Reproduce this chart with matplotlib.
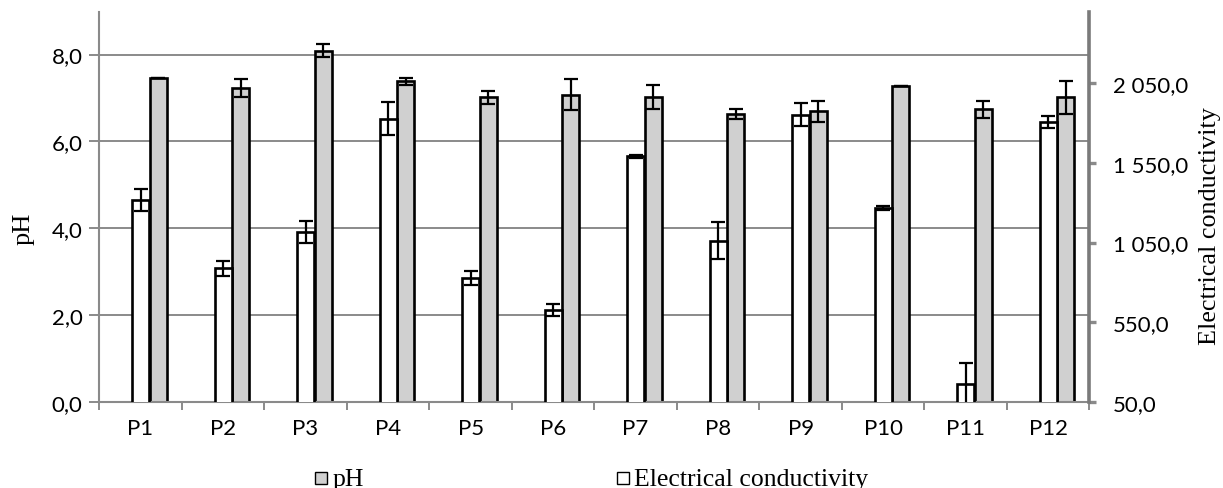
import matplotlib
matplotlib.use("Agg")
import matplotlib.pyplot as plt
import numpy as np
from matplotlib.patches import Rectangle

categories = ["P1", "P2", "P3", "P4", "P5", "P6", "P7", "P8", "P9", "P10", "P11", "P12"]
ph_values = [7.46, 7.23, 8.09, 7.38, 7.02, 7.08, 7.02, 6.63, 6.69, 7.27, 6.74, 7.02]
ph_errors = [0.0, 0.21, 0.15, 0.09, 0.15, 0.35, 0.28, 0.12, 0.25, 0.0, 0.2, 0.38]
ec_values = [1318, 888, 1119, 1828, 830, 626, 1591, 1063, 1853, 1266, 161, 1807]
ec_errors = [67, 48, 69, 103, 44, 36, 8, 117, 73, 12, 134, 40]
left_ticks = [0, 2, 4, 6, 8]
left_ticklabels = ["0,0", "2,0", "4,0", "6,0", "8,0"]
right_ticks = [50, 550, 1050, 1550, 2050]
right_ticklabels = ["50,0", "550,0", "1 050,0", "1 550,0", "2 050,0"]

sans = "Lato"
serif = "Liberation Serif"
W, H = 1223, 489

fig = plt.figure(figsize=(12.23, 4.89), dpi=100)
ax = fig.add_axes([0.0812, 0.1765, 0.8095, 0.7959])
ax2 = ax.twinx()

x = np.arange(len(categories))
w = 0.205
grid_c = "#8a8a8a"

ax.set_xlim(-0.5, len(categories) - 0.5)
ax.set_ylim(0, 8.97)
ax2.set_ylim(50, 2496)

for y in left_ticks[1:]:
    ax.axhline(y, color=grid_c, lw=1.4, zorder=0)

# pH bars (primary axis), gray
ax.bar(x + 0.215, ph_values, width=w, color="#d0d0d0", edgecolor="black", linewidth=1.9, zorder=2)
ax.errorbar(x + 0.215, ph_values, yerr=ph_errors, fmt="none", ecolor="black", elinewidth=1.6,
            capsize=5, capthick=1.6, zorder=4)

# EC bars (secondary axis), white
ax2.set_zorder(ax.get_zorder() + 1)
ax2.patch.set_visible(False)
ax2.bar(x, ec_values, width=w, color="white", edgecolor="black", linewidth=1.9, zorder=2)
ax2.errorbar(x, ec_values, yerr=ec_errors, fmt="none", ecolor="black", elinewidth=1.6,
             capsize=5, capthick=1.6, zorder=4)

# axes styling
for a in (ax, ax2):
    a.spines["top"].set_visible(False)
ax.spines["left"].set_color(grid_c)
ax.spines["left"].set_linewidth(1.5)
ax.spines["bottom"].set_color(grid_c)
ax.spines["bottom"].set_linewidth(1.5)
ax.spines["right"].set_visible(False)
ax2.spines["left"].set_visible(False)
ax2.spines["bottom"].set_visible(False)
ax2.spines["right"].set_color("#7a7a7a")
ax2.spines["right"].set_linewidth(2.6)

ax.set_yticks(left_ticks)
ax.set_yticklabels(left_ticklabels, fontfamily=sans, fontsize=16)
ax.tick_params(axis="y", direction="out", length=7, width=1.4, color=grid_c, pad=5)

ax2.set_yticks(right_ticks)
ax2.set_yticklabels(right_ticklabels, fontfamily=sans, fontsize=16)
ax2.tick_params(axis="y", which="major", direction="out", length=5, width=2.4,
                color="#8a8a8a", pad=12)

ax.set_xticks(x)
ax.set_xticklabels(categories, fontfamily=sans, fontsize=16)
ax.set_xticks(np.arange(-0.5, len(categories) - 0.4, 1.0), minor=True)
ax.tick_params(axis="x", which="major", length=0, pad=12)
ax.tick_params(axis="x", which="minor", direction="out", length=6, width=1.4, color=grid_c)

ax.set_ylabel("pH", fontfamily=serif, fontsize=19)
ax.yaxis.set_label_coords((35 - 99.3) / 990.0, (402.7 - 229) / 389.2)
ax2.set_ylabel("Electrical conductivity", fontfamily=serif, fontsize=18.8)
ax2.yaxis.set_label_coords((1199 - 99.3) / 990.0, (402.7 - 226.5) / 389.2)

# legend at bottom
fig.patches.append(Rectangle((315 / W, 1 - 485 / H), 12 / W, 12 / H,
                             transform=fig.transFigure, facecolor="#d0d0d0",
                             edgecolor="black", linewidth=1.0))
fig.text(333 / W, 1 - 486 / H, "pH", fontfamily=serif, fontsize=18.5, va="baseline", ha="left")
fig.patches.append(Rectangle((617 / W, 1 - 485 / H), 12 / W, 12 / H,
                             transform=fig.transFigure, facecolor="white",
                             edgecolor="black", linewidth=1.0))
fig.text(634 / W, 1 - 486 / H, "Electrical conductivity", fontfamily=serif, fontsize=18.5,
         va="baseline", ha="left")

fig.savefig("out.png", dpi=100)
